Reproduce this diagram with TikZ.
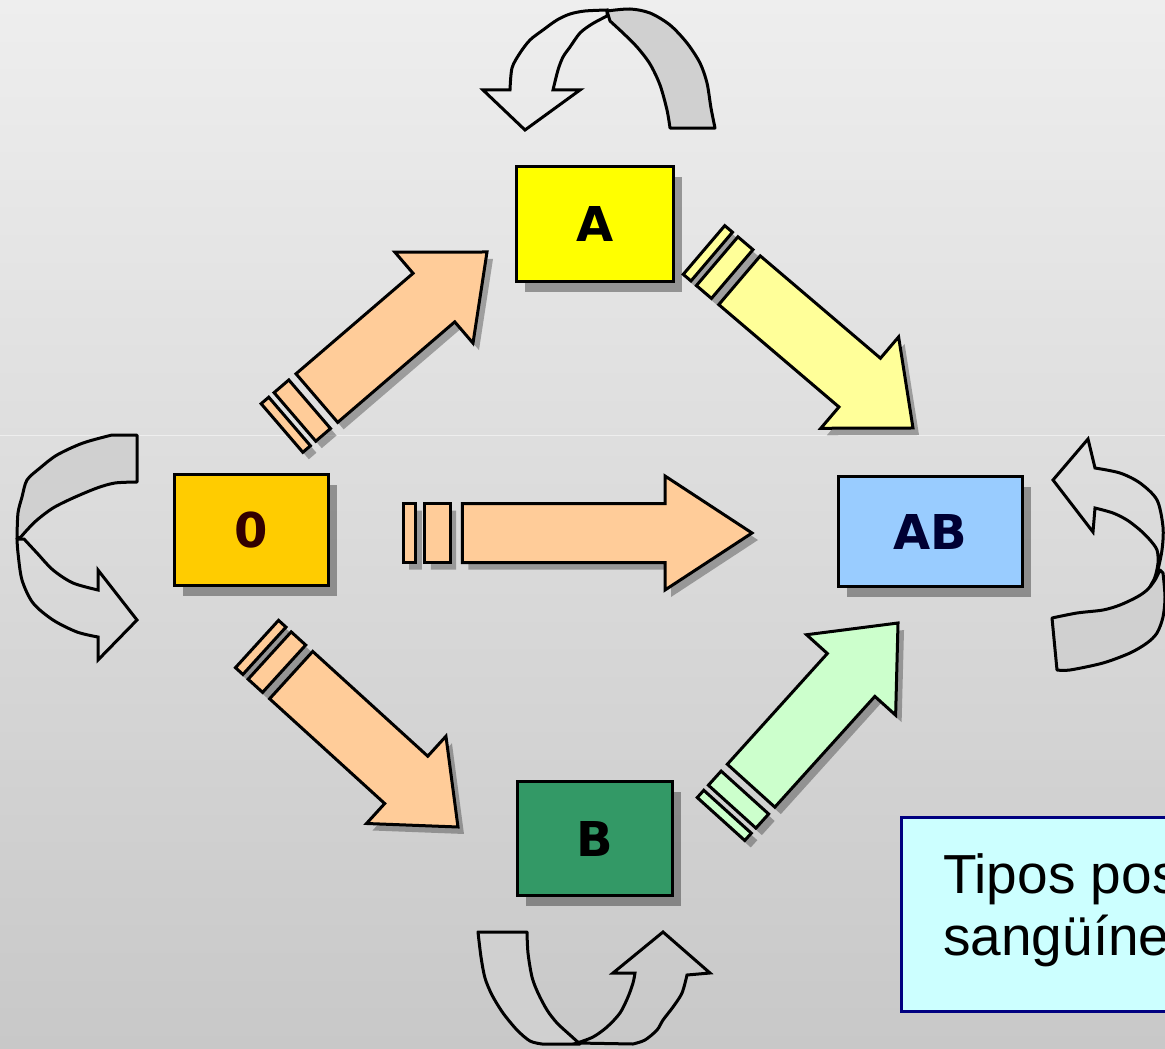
\documentclass[tikz,border=0pt]{standalone}
\usepackage{fontspec}
\usetikzlibrary{shadows}
\newfontfamily\lblfont{DejaVu Sans}
\newfontfamily\notefont{Liberation Sans}
\definecolor{bgtop}{HTML}{EEEEEE}
\definecolor{bgmid}{HTML}{D8D8D8}
\definecolor{bgbot}{HTML}{C8C8C8}
\definecolor{peach}{HTML}{FFCC99}
\definecolor{paleyellow}{HTML}{FFFF99}
\definecolor{palegreen}{HTML}{CCFFCC}
\definecolor{ribbongray}{HTML}{D0D0D0}
\definecolor{boxA}{HTML}{FFFF00}
\definecolor{boxO}{HTML}{FFCC00}
\definecolor{boxAB}{HTML}{99CCFF}
\definecolor{boxB}{HTML}{339966}
\definecolor{notefill}{HTML}{CCFFFF}
\definecolor{noteline}{HTML}{000080}
\definecolor{darkbrown}{HTML}{330000}
\definecolor{darknavy}{HTML}{000033}
% #1 tail, #2 tip, #3 fill, #4 shaft half width, #5 head half width, #6 head length
\newcommand\stripedarrow[6]{%
  \path (#1); \pgfgetlastxy{\saX}{\saY}%
  \path (#2); \pgfgetlastxy{\sbX}{\sbY}%
  \pgfmathsetmacro\saAng{atan2(\sbY-\saY,\sbX-\saX)}%
  \pgfmathsetmacro\saLen{veclen(\sbX-\saX,\sbY-\saY)}%
  \pgfmathsetmacro\saS{0.037*\saLen}%
  \pgfmathsetmacro\saT{0.063*\saLen}%
  \pgfmathsetmacro\saU{0.135*\saLen}%
  \pgfmathsetmacro\saV{0.17*\saLen}%
  \pgfmathsetmacro\saB{\saLen-#6}%
  \begin{scope}[shift={(#1)}, xshift=6pt, yshift=-7pt, rotate=\saAng]
    \fill[black, opacity=0.3] (0,-#4) rectangle (\saS,#4) (\saT,-#4) rectangle (\saU,#4)
      (\saV,-#4) -- (\saB,-#4) -- (\saB,-#5) -- (\saLen,0) -- (\saB,#5) -- (\saB,#4) -- (\saV,#4) -- cycle;
  \end{scope}
  \begin{scope}[shift={(#1)}, rotate=\saAng]
    \draw[blockline, fill=#3] (0,-#4) rectangle (\saS,#4);
    \draw[blockline, fill=#3] (\saT,-#4) rectangle (\saU,#4);
    \draw[blockline, fill=#3] (\saV,-#4) -- (\saB,-#4) -- (\saB,-#5) -- (\saLen,0) -- (\saB,#5) -- (\saB,#4) -- (\saV,#4) -- cycle;
  \end{scope}
}
\begin{document}
\begin{tikzpicture}[x=1pt, y=-1pt,
  blockline/.style={draw=black, line width=3pt, line join=miter},
  ribbonpart/.style={draw=black, line width=3pt, fill=ribbongray, line join=round},
  ribbonhead/.style={draw=black, line width=3pt, line join=miter},
  bloodbox/.style={draw=black, line width=3.5pt, inner sep=0pt,
    font={\lblfont\bfseries\fontsize{48pt}{48pt}\selectfont},
    drop shadow={shadow xshift=8pt, shadow yshift=-10pt, opacity=0.35, fill=black}},
  notetext/.style={inner sep=0pt, anchor=base west,
    font={\notefont\fontsize{55pt}{55pt}\selectfont}}]
\useasboundingbox (0,0) rectangle (1165,1049);
\clip (0,0) rectangle (1165,1049);
% background
\shade[top color=bgtop, middle color=bgmid, bottom color=bgbot] (0,0) rectangle (1165,1049);
\draw[white, opacity=0.5, line width=1pt] (0,435) -- (1165,435);

% blood type boxes
\node[bloodbox, fill=boxA, minimum width=157, minimum height=115] (A) at (595,224) {A};
\node[bloodbox, fill=boxO, minimum width=154, minimum height=111, text=darkbrown] (O) at (251.5,530) {0};
\node[bloodbox, fill=boxAB, minimum width=184, minimum height=110, text=darknavy] (AB) at (930.5,531.5) {AB};
\node[bloodbox, fill=boxB, minimum width=155, minimum height=114] (B) at (595,838.5) {B};

% block arrows
\coordinate (oaTail) at (282,428);  \coordinate (oaTip) at (487,252);
\coordinate (aabTail) at (704,250); \coordinate (aabTip) at (913,428);
\coordinate (oabTail) at (403,533); \coordinate (oabTip) at (752,533);
\coordinate (obTail) at (257,644);  \coordinate (obTip) at (458,827);
\coordinate (babTail) at (721,819); \coordinate (babTip) at (898,623);
\stripedarrow{oaTail}{oaTip}{peach}{32}{60}{70}
\stripedarrow{aabTail}{aabTip}{paleyellow}{32}{60}{70}
\stripedarrow{oabTail}{oabTip}{peach}{29.5}{57}{87}
\stripedarrow{obTail}{obTip}{peach}{32}{59}{70}
\stripedarrow{babTail}{babTip}{palegreen}{32}{60}{70}

% top circular arrow (A)
\draw[ribbonpart] plot[smooth] coordinates {(607,11) (630,9) (650,13) (670,25) (687,43) (700,63) (707,83) (711,108) (715,128)}
  -- (670,128) -- plot[smooth] coordinates {(670,128) (667,110) (660,85) (650,64) (637,47) (623,33) (610,21)} -- cycle;
\draw[ribbonhead] plot[smooth] coordinates {(607,10) (585,11) (570,14) (557,20) (543,30) (530,40) (520,53) (512,68) (510,90)}
  -- (483,90) -- (525,130) -- (580,90) -- (553,90)
  -- plot[smooth] coordinates {(553,90) (558,70) (563,57) (570,47) (580,33) (592,24) (607,16)} -- cycle;

% left circular arrow (O)
\draw[ribbonpart] (112,435) -- (137,435) -- (137,482)
  -- plot[smooth] coordinates {(137,482) (115,483) (97,488) (73,498) (53,508) (37,520) (27,530) (20,538)}
  -- plot[smooth] coordinates {(17,537) (18,513) (22,497) (27,480) (40,468) (57,455) (83,443) (112,435)} -- cycle;
\draw[ribbonhead] plot[smooth] coordinates {(24,539) (37,553) (53,570) (73,583) (98,590)}
  -- (98,570) -- (137,620) -- (98,660) -- (98,637)
  -- plot[smooth] coordinates {(98,637) (77,632) (53,620) (33,603) (22,580) (18,553) (17,539)} -- cycle;

% right circular arrow (AB)
\draw[ribbonpart] plot[smooth] coordinates {(1052,618) (1077,613) (1103,610) (1120,605) (1137,597) (1147,590) (1155,580) (1160,570)}
  -- plot[smooth] coordinates {(1163,573) (1165,597) (1163,617) (1157,633) (1147,643) (1130,653) (1103,663) (1070,670) (1057,670)} -- cycle;
\draw[ribbonhead] (1088,439) -- (1095,468)
  -- plot[smooth] coordinates {(1095,468) (1120,473) (1140,483) (1157,500) (1163,527) (1162,550) (1157,573) (1152,583)}
  -- plot[smooth] coordinates {(1150,587) (1155,577) (1158,563) (1157,550) (1150,540) (1140,530) (1127,520) (1113,513) (1095,508)}
  -- (1093,532) -- (1053,480) -- cycle;

% bottom circular arrow (B)
\draw[ribbonpart] (478,932) -- (527,932)
  -- plot[smooth] coordinates {(527,932) (528,953) (532,977) (538,993) (547,1010) (557,1023) (570,1035) (580,1044)}
  -- (542,1044)
  -- plot[smooth] coordinates {(542,1044) (530,1041) (517,1030) (503,1013) (492,995) (485,978) (481,957) (478,932)} -- cycle;
\draw[ribbonhead] plot[smooth] coordinates {(577,1043) (593,1037) (607,1027) (620,1013) (628,997) (633,983) (635,973)}
  -- (613,973) -- (663,932) -- (710,973) -- (687,975)
  -- plot[smooth] coordinates {(687,975) (682,993) (673,1007) (663,1020) (657,1030) (645,1040) (633,1044)} -- cycle;

% note box
\node[draw=noteline, line width=3pt, fill=notefill, inner sep=0pt, anchor=north west,
  minimum width=290, minimum height=194] (note) at (900,816) {};
\node[notetext] (noteline1) at (943,893) {Tipos pos};
\node[notetext] (noteline2) at (943,955) {sangüínea};
\end{tikzpicture}
\end{document}
